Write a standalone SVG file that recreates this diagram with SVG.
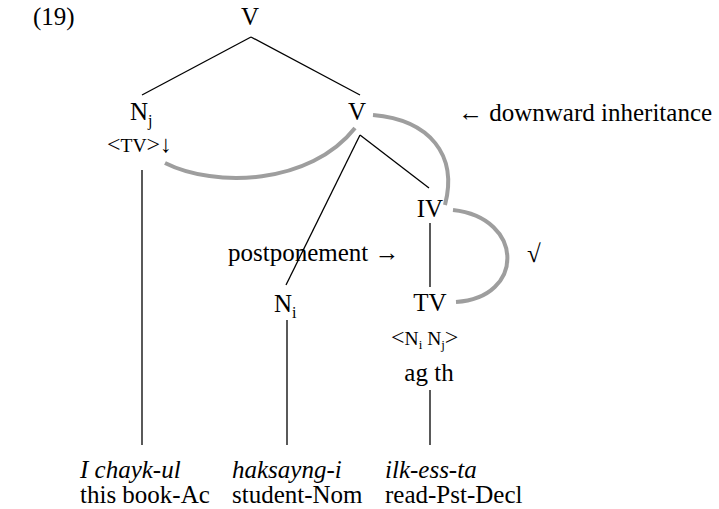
<svg xmlns="http://www.w3.org/2000/svg" width="719" height="509" viewBox="0 0 719 509" font-family="Liberation Serif, Times New Roman, DejaVu Serif, serif">
<style>
text{font-family:'Liberation Serif','Times New Roman','DejaVu Serif',serif;font-size:25px;fill:#000}
.m{text-anchor:middle}
.i{font-style:italic}
.sub{font-size:16px}
.sm{font-size:19.5px}
.br{font-size:24px}
.ss{font-size:13px}
.e{stroke:#000;stroke-width:1.3;fill:none}
.g{stroke:#9e9e9e;stroke-width:4;fill:none}
</style>
<rect width="719" height="509" fill="#fff"/>
<text x="33" y="25">(19)</text>
<g id="connectors">
<line class="e" x1="251" y1="37" x2="142" y2="95"/>
<line class="e" x1="251" y1="37" x2="360" y2="95"/>
<line class="e" x1="360" y1="135" x2="286" y2="285"/>
<line class="e" x1="360" y1="135" x2="429" y2="188"/>
<line class="e" x1="142" y1="170" x2="142" y2="445"/>
<line class="e" x1="430" y1="223" x2="430" y2="287"/>
<line class="e" x1="287" y1="320" x2="287" y2="445"/>
<line class="e" x1="430" y1="390" x2="430" y2="445"/>
<path class="g" d="M165,163 C215,188 310,185 355,128"/>
<path class="g" d="M373,115 C430,120 458,155 445,205"/>
<path class="g" d="M453,210 C525,218 525,298 456,302"/>
</g>
<g id="node-V-top"><text class="m" x="250" y="25">V</text></g>
<g id="node-Nj">
<text x="130" y="120">N<tspan class="sub" dy="6">j</tspan></text>
<text x="107" y="152"><tspan class="br">&lt;</tspan><tspan class="sm">TV</tspan><tspan class="br">&gt;</tspan><tspan font-size="24">↓</tspan></text>
</g>
<g id="node-V"><text class="m" x="357" y="120">V</text></g>
<g id="node-IV"><text class="m" x="430" y="217">IV</text></g>
<g id="node-Ni"><text x="274" y="312">N<tspan class="sub" dy="6">i</tspan></text></g>
<g id="node-TV">
<text class="m" x="430" y="311">TV</text>
<text x="391" y="345"><tspan class="br">&lt;</tspan><tspan class="sm">N</tspan><tspan class="ss" dy="4">i</tspan><tspan class="sm" dy="-4"> N</tspan><tspan class="ss" dy="4">j</tspan><tspan class="br" dy="-4">&gt;</tspan></text>
<text class="m" x="429" y="381">ag th</text>
</g>
<g id="labels">
<text x="458" y="121">← downward inheritance</text>
<text x="228" y="261">postponement →</text>
<text x="527" y="262">√</text>
</g>
<g id="words">
<text class="i" x="80" y="478">I chayk-ul</text>
<text x="80" y="503">this book-Ac</text>
<text class="i" x="232" y="478">haksayng-i</text>
<text x="232" y="503">student-Nom</text>
<text class="i" x="385" y="478">ilk-ess-ta</text>
<text x="385" y="503">read-Pst-Decl</text>
</g>
</svg>
